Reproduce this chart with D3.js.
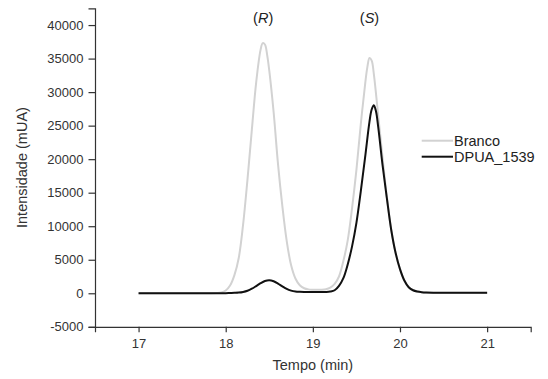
<!DOCTYPE html>
<meta charset='utf-8'>
<script src='https://d3js.org/d3.v7.min.js'></script>
<style>
  body {margin:0; background:white;}
  #chart {font-family:'Liberation Sans',Arial,sans-serif;}
</style>
<svg id='chart'></svg>
<script>
// chromatogram, values
var brancoTime=[17.00,17.80,17.90,17.95,18.00,18.05,18.10,18.15,18.20,18.25,18.30,18.35,
                18.40,18.425,18.45,18.475,18.50,18.55,18.60,18.65,18.70,18.75,18.80,18.85,18.90,18.95,
                19.00,19.05,19.10,19.15,19.20,19.25,19.30,19.35,19.40,19.45,19.50,19.55,
                19.60,19.625,19.65,19.675,19.70,19.75,19.80,19.85,19.90,19.95,20.00,20.05,20.10,20.15,
                20.20,20.25,20.30,21.00];
var brancoValue=[0,0,30,120,420,1150,2700,5300,10300,17000,24400,31500,
                 36300,37300,37100,35600,33200,27000,19300,13000,7800,4200,2200,1200,750,580,
                 530,510,520,600,850,1400,2500,4800,7900,12700,18400,25200,
                 31200,33700,35100,34700,32700,26500,20200,14300,9500,6000,3600,1900,900,450,
                 230,130,80,50];
var dpuaTime=[17.00,17.50,17.90,18.00,18.05,18.10,18.15,18.20,18.25,18.30,18.35,18.40,
              18.45,18.50,18.55,18.60,18.65,18.70,18.75,18.80,18.85,18.90,18.95,19.00,
              19.05,19.10,19.15,19.20,19.25,19.30,19.35,19.40,19.45,19.50,19.55,19.60,
              19.65,19.675,19.70,19.725,19.75,19.80,19.85,19.90,19.95,20.00,20.05,20.10,20.15,20.20,
              20.25,20.30,21.00];
var dpuaValue=[0,0,10,20,40,60,100,200,380,680,1080,1500,
               1840,1960,1800,1450,1030,650,400,260,210,190,190,190,
               190,190,200,260,450,1100,2250,4300,7000,10500,15200,20300,
               25600,27400,28050,27100,24800,19100,14100,9400,6000,3600,1900,900,450,250,
               150,110,60];
var seriesNames=['Branco','DPUA_1539'];
var xTicks=[17,18,19,20,21];
var yTicks=[-5000,0,5000,10000,15000,20000,25000,30000,35000,40000];

var W=548,H=379;
var svg=d3.select('#chart').attr('width',W).attr('height',H);
var x=d3.scaleLinear().domain([16.5,21.5]).range([95,530.7]),
    y=d3.scaleLinear().domain([-5000,42500]).range([326.8,8.3]);
var ink='#333';
var fmt=function(d) {return String(d);};   // plain hyphen for negatives

// axes: major + minor ticks
var gx=svg.append('g').attr('transform','translate(0,'+y(-5000)+')');
gx.call(d3.axisBottom(x).tickValues([16.5,17.5,18.5,19.5,20.5,21.5]).tickSize(3).tickFormat(''));
gx.call(d3.axisBottom(x).tickValues(xTicks).tickSize(5.5).tickPadding(6).tickFormat(fmt));
var gy=svg.append('g').attr('transform','translate('+x(16.5)+',0)');
gy.call(d3.axisLeft(y).tickValues(d3.range(-2500,45000,5000)).tickSize(3).tickFormat(''));
gy.call(d3.axisLeft(y).tickValues(yTicks).tickSize(6.5).tickPadding(5).tickFormat(fmt));
svg.selectAll('.domain').attr('stroke',ink).attr('stroke-width',1.2);
svg.selectAll('.tick line').attr('stroke',ink).attr('stroke-width',1.2);
svg.selectAll('.tick text').attr('fill',ink).style('font-size','13px').style('font-family','inherit');

svg.append('text').attr('x',(95+530.7)/2).attr('y',370).attr('text-anchor','middle')
   .attr('fill',ink).style('font-size','14.5px').text('Tempo (min)');
svg.append('text').attr('transform','translate(27,'+((8.3+326.8)/2)+') rotate(-90)')
   .attr('text-anchor','middle').attr('fill',ink).style('font-size','14.5px').text('Intensidade (mUA)');

var line=d3.line().curve(d3.curveCatmullRom.alpha(0.5))
           .x(function(d) {return x(d[0]);})
           .y(function(d) {return y(d[1]);});
var colors=['#d2d2d2','#111111'];
var data=[d3.zip(brancoTime,brancoValue),d3.zip(dpuaTime,dpuaValue)];
data.forEach(function(d,i) {
    svg.append('path').datum(d).attr('d',line)
       .attr('fill','none').attr('stroke',colors[i]).attr('stroke-width',2); });

// peak labels
[['R',18.43],['S',19.65]].forEach(function(p) {
    var t=svg.append('text').attr('x',x(p[1])).attr('y',23).attr('text-anchor','middle')
             .attr('fill','#222').style('font-size','14.5px');
    t.append('tspan').text('(');
    t.append('tspan').style('font-style','italic').text(p[0]);
    t.append('tspan').text(')'); });

// legend
seriesNames.forEach(function(s,i) {
    var ly=140.7+16*i;
    svg.append('line').attr('x1',421.7).attr('x2',453).attr('y1',ly).attr('y2',ly)
       .attr('stroke',colors[i]).attr('stroke-width',2);
    svg.append('text').attr('x',454).attr('y',ly+5).attr('fill','#222')
       .style('font-size','14.5px').text(s); });
</script>
